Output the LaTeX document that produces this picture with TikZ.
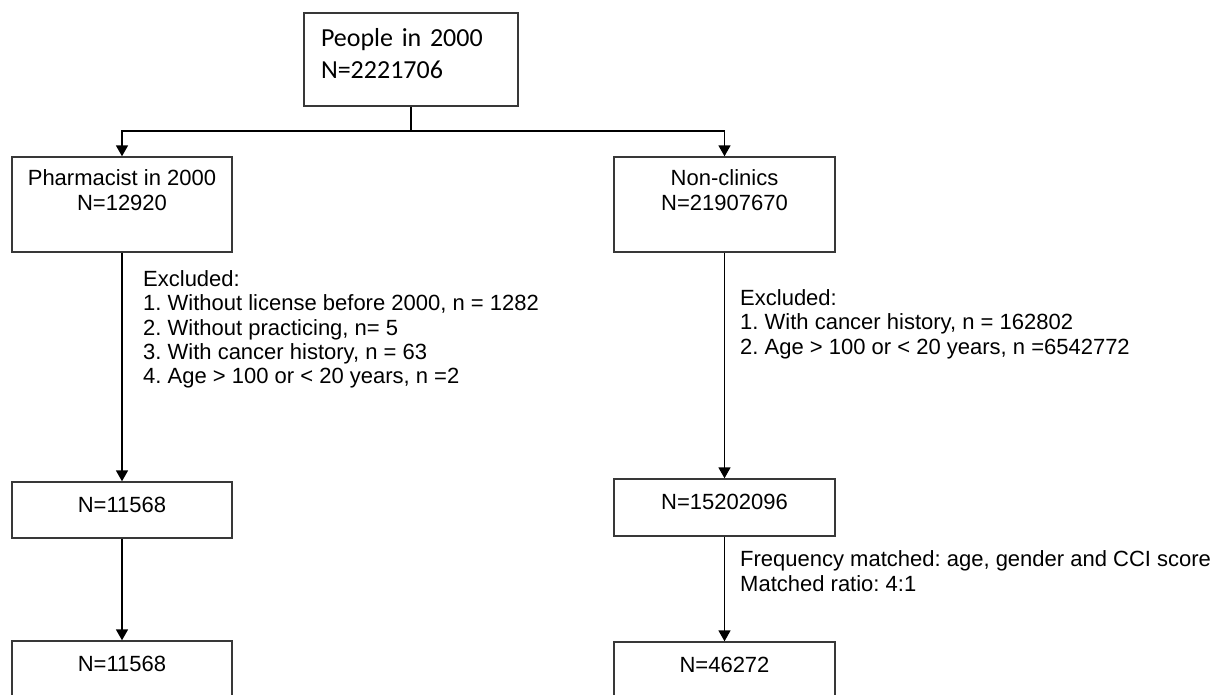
\documentclass[tikz,border=0pt]{standalone}
\usepackage{fontspec}
\setmainfont{Liberation Sans}
\newfontfamily\calibrifont{Carlito}
\usetikzlibrary{arrows.meta}
\frenchspacing
\tikzset{
  box/.style={draw=black!78, line width=1.4pt, fill=white, inner sep=0pt,
    font=\fontsize{22}{25}\selectfont, align=center, text height=16pt},
  topbox/.style={box, font=\calibrifont\fontsize{26}{32}\selectfont, align=left,
    text width=180pt, inner xsep=17pt, inner ysep=0pt, text height=17pt, text depth=43pt,
    minimum width=214pt, minimum height=93pt},
  bigbox/.style={box, text height=41pt, text depth=28pt},
  nbox/.style={box, text depth=12pt},
  note/.style={font=\fontsize{22}{24.3}\selectfont, align=left, inner sep=0pt, anchor=north west},
  conn/.style={line width=1.7pt, black},
  arr/.style={conn, -{Triangle[width=12pt,length=11pt]}}
}
\begin{document}
\begin{tikzpicture}[x=1pt,y=-1pt]
\useasboundingbox (0,0) rectangle (1217,695);
\clip (0,0) rectangle (1217,695);
\node[topbox] (top) at (411,59.5) {People in 2000\\N=2221706};
\node[bigbox, minimum width=220pt, minimum height=95pt] (ph) at (122,204.5) {Pharmacist in 2000\\N=12920};
\node[bigbox, minimum width=221pt, minimum height=95pt] (nc) at (724.5,204.5) {Non-clinics\\N=21907670};
\node[nbox, minimum width=220pt, minimum height=56pt] (ph2) at (122,510) {N=11568};
\node[nbox, minimum width=221pt, minimum height=57pt] (nc2) at (724.5,507.5) {N=15202096};
\node[nbox, minimum width=220pt, minimum height=56pt] (ph3) at (122,669) {N=11568};
\node[nbox, minimum width=221pt, minimum height=56pt] (nc3) at (724.5,670) {N=46272};
\coordinate (split) at (411,131);
\draw[conn] (top.south) -- (split);
\draw[arr] (split) -| (ph.north);
\draw[arr] (split) -| (nc.north);
\draw[arr] (ph.south) -- (ph2.north);
\draw[arr] (nc.south) -- (nc2.north);
\draw[arr] (ph2.south) -- (ph3.north);
\draw[arr] (nc2.south) -- (nc3.north);
\node[note] (exl) at (143,270.5) {Excluded:\\1. Without license before 2000, n = 1282\\2. Without practicing, n= 5\\3. With cancer history, n = 63\\4. Age > 100 or < 20 years, n =2};
\node[note] (exr) at (740,289.5) {Excluded:\\1. With cancer history, n = 162802\\2. Age > 100 or < 20 years, n =6542772};
\node[note, font=\fontsize{22}{25}\selectfont] (fm) at (740,550.5) {Frequency matched: age, gender and CCI score\\Matched ratio: 4:1};
\end{tikzpicture}
\end{document}
